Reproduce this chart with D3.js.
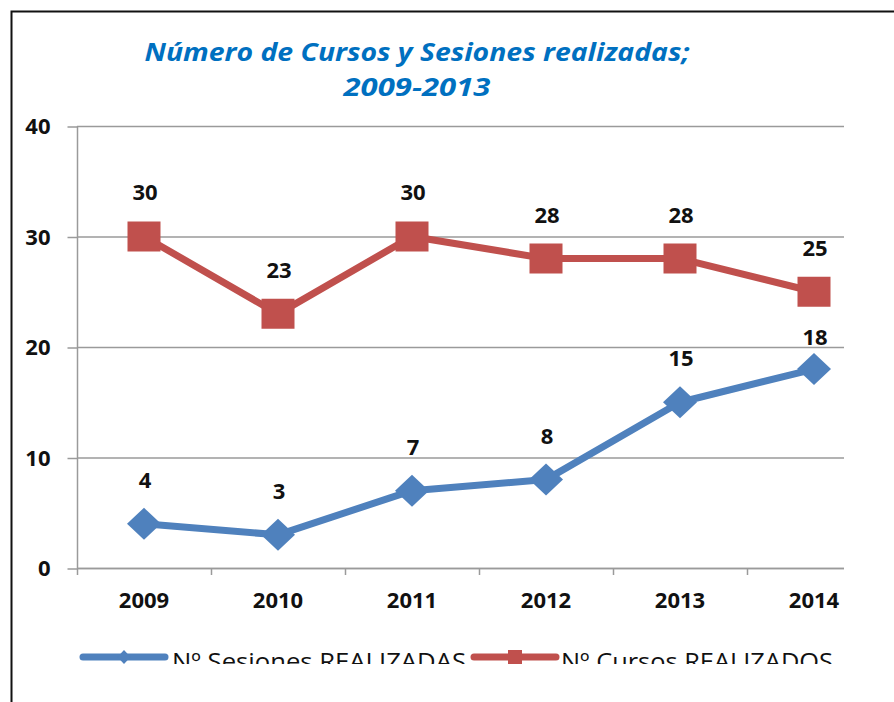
<!DOCTYPE html>
<html>
<head>
<meta charset="utf-8">
<script src="https://cdn.jsdelivr.net/npm/d3@7"></script>
<style>
  body { margin: 0; background: #fff; }
  svg { display: block; }
  .axis text { font-family: "Open Sans", sans-serif; font-weight: bold; font-size: 22px; fill: #111; }
  .lbl { font-family: "Open Sans", sans-serif; font-weight: bold; font-size: 22px; fill: #111; }
</style>
</head>
<body>
<div id="my_dataviz"></div>
<script>
// data
var years = ["2009", "2010", "2011", "2012", "2013", "2014"];
var sesiones = [4, 3, 7, 8, 15, 18];
var cursos = [30, 23, 30, 28, 28, 25];
var yTicks = [0, 10, 20, 30, 40];
var titleLines = ["Número de Cursos y Sesiones realizadas;", "2009-2013"];
var legendNames = ["Nº Sesiones REALIZADAS", "Nº Cursos REALIZADOS"];

var W = 894, H = 702;
var plot = { left: 77, right: 844, top: 126, bottom: 568 };

var svg = d3.select("#my_dataviz")
  .append("svg")
  .attr("width", W)
  .attr("height", H);

svg.append("rect").attr("width", W).attr("height", H).attr("fill", "#fff");

// outer frame (cut off right and bottom in the original)
svg.append("path")
  .attr("d", "M11.5," + H + "V11.5H" + W)
  .attr("fill", "none")
  .attr("stroke", "#111")
  .attr("stroke-width", 2);

// title
var titleY = [61, 96];
var titleW = [545, 147];
titleLines.forEach(function(t, i) {
  svg.append("text")
    .attr("x", 417)
    .attr("y", titleY[i])
    .attr("text-anchor", "middle")
    .attr("textLength", titleW[i])
    .attr("lengthAdjust", "spacingAndGlyphs")
    .style("font-family", "'Open Sans', sans-serif")
    .style("font-weight", "bold")
    .style("font-style", "italic")
    .style("font-size", "25px")
    .style("fill", "#0070C0")
    .text(t);
});

// scales: category bands run past the visible plot edge, like the source
var x = d3.scaleBand()
  .domain(years)
  .range([plot.left, plot.left + 6 * 134])
  .padding(0);

var y = d3.scaleLinear()
  .domain([0, 40])
  .range([plot.bottom, plot.top]);

//------------------------------------------------------------------------//
// gridlines + axes
svg.append("g")
  .selectAll("line")
  .data(yTicks)
  .enter()
  .append("line")
  .attr("x1", plot.left)
  .attr("x2", plot.right)
  .attr("y1", function(d) { return y(d) + 0.5; })
  .attr("y2", function(d) { return y(d) + 0.5; })
  .attr("stroke", "#9a9a9a")
  .attr("stroke-width", 1.5);

var yAxis = svg.append("g")
  .attr("class", "axis")
  .attr("transform", "translate(" + (plot.left + 0.5) + ",0)")
  .call(d3.axisLeft(y).tickValues(yTicks).tickSize(10).tickPadding(17).tickFormat(d3.format("d")));
yAxis.selectAll("line").attr("stroke", "#9a9a9a").attr("stroke-width", 1.5).attr("transform", "translate(0,0.5)");
yAxis.select(".domain").attr("stroke", "#9a9a9a").attr("stroke-width", 1.5).attr("d", "M0," + plot.top + "V" + (plot.bottom + 7));
yAxis.selectAll("text").attr("dy", "0.36em");

// x axis line and ticks at category boundaries
svg.append("line")
  .attr("x1", plot.left).attr("x2", plot.right)
  .attr("y1", plot.bottom + 0.5).attr("y2", plot.bottom + 0.5)
  .attr("stroke", "#9a9a9a").attr("stroke-width", 1.5);
svg.append("g")
  .selectAll("line")
  .data(years.slice(1))
  .enter()
  .append("line")
  .attr("x1", function(d) { return x(d) + 0.5; })
  .attr("x2", function(d) { return x(d) + 0.5; })
  .attr("y1", plot.bottom)
  .attr("y2", plot.bottom + 7)
  .attr("stroke", "#9a9a9a").attr("stroke-width", 1.5);

var xAxis = svg.append("g")
  .attr("class", "axis")
  .attr("transform", "translate(0," + plot.bottom + ")")
  .call(d3.axisBottom(x).tickSize(0).tickPadding(24));
xAxis.select(".domain").remove();

//------------------------------------------------------------------------//
// series
var series = [
  { name: legendNames[0], values: sesiones, color: "#4F81BD", shape: "diamond" },
  { name: legendNames[1], values: cursos, color: "#C0504D", shape: "square" }
];

function markerPath(shape, w, h) {
  if (shape == "diamond") {
    return "M0," + (-h / 2) + "L" + (w / 2) + ",0L0," + (h / 2) + "L" + (-w / 2) + ",0Z";
  }
  return "M" + (-w / 2) + "," + (-h / 2) + "h" + w + "v" + h + "h" + (-w) + "Z";
}

var cx = function(d, i) { return x(years[i]) + x.bandwidth() / 2; };

// label sits 44px above its point, except where it would collide with the other series
var labelGap = function(s, i) {
  return (s.shape == "diamond" && i == years.length - 1) ? 32 : 44;
};

series.forEach(function(s) {
  svg.append("path")
    .datum(s.values)
    .attr("fill", "none")
    .attr("stroke", s.color)
    .attr("stroke-width", 7)
    .attr("stroke-linejoin", "round")
    .attr("d", d3.line()
      .x(cx)
      .y(function(d) { return y(d); }));

  svg.append("g")
    .selectAll("path")
    .data(s.values)
    .enter()
    .append("path")
    .attr("transform", function(d, i) { return "translate(" + cx(d, i) + "," + y(d) + ")"; })
    .attr("d", s.shape == "diamond" ? markerPath("diamond", 34, 32) : markerPath("square", 33, 30))
    .attr("fill", s.color);

  svg.append("g")
    .selectAll("text")
    .data(s.values)
    .enter()
    .append("text")
    .attr("class", "lbl")
    .attr("text-anchor", "middle")
    .attr("x", function(d, i) { return cx(d, i) + 1; })
    .attr("y", function(d, i) { return y(d) - labelGap(s, i); })
    .attr("dy", "0.36em")
    .text(function(d) { return d; });
});

//------------------------------------------------------------------------//
// legend (bottom is clipped in the original)
svg.append("clipPath")
  .attr("id", "legclip")
  .append("rect")
  .attr("x", 0).attr("y", 0).attr("width", W).attr("height", 664);

var legend = svg.append("g").attr("clip-path", "url(#legclip)");
var legX = [83, 474], legTextX = [172, 561], legTextW = [294, 272];
series.forEach(function(s, i) {
  legend.append("line")
    .attr("x1", legX[i]).attr("x2", legX[i] + 82)
    .attr("y1", 657).attr("y2", 657)
    .attr("stroke", s.color)
    .attr("stroke-width", 7)
    .attr("stroke-linecap", "round");
  legend.append("path")
    .attr("transform", "translate(" + (legX[i] + 41) + ",657)")
    .attr("d", s.shape == "diamond" ? markerPath("diamond", 13, 14) : markerPath("square", 14, 14))
    .attr("fill", s.color);
  legend.append("text")
    .attr("x", legTextX[i])
    .attr("y", 670)
    .attr("textLength", legTextW[i])
    .attr("lengthAdjust", "spacingAndGlyphs")
    .style("font-family", "'Open Sans', sans-serif")
    .style("font-size", "23px")
    .style("fill", "#111")
    .text(s.name);
});
</script>
</body>
</html>
